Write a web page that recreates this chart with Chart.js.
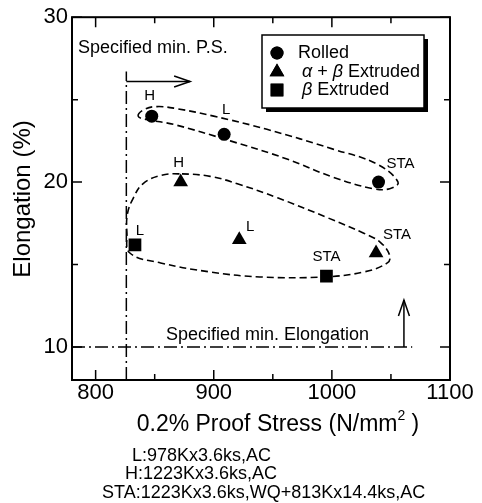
<!DOCTYPE html>
<html>
<head>
<meta charset="utf-8">
<script src="https://cdn.jsdelivr.net/npm/chart.js@4"></script>
<style>
  html, body { margin: 0; padding: 0; background: #fff; }
  #wrap { width: 482px; height: 503px; }
</style>
</head>
<body>
<div id="wrap"><canvas id="chart" width="482" height="503"></canvas></div>
<script>
// values
const rolledX = [847.5, 908.8, 1039.5];
const rolledY = [24.0, 22.9, 20.0];
const rolledTags = ['H', 'L', 'STA'];

const abX = [872, 921.6, 1037.4];
const abY = [20.0, 16.5, 15.7];
const abTags = ['H', 'L', 'STA'];

const betaX = [833.3, 995.4];
const betaY = [16.2, 14.3];
const betaTags = ['L', 'STA'];

// dashed loops around groups (outline)
const upperLoopX = [836, 841, 852, 869, 900, 945, 1001, 1038, 1056, 1049, 1035, 1001, 962, 914, 866, 843];
const upperLoopY = [24.0, 24.4, 24.58, 24.45, 24.0, 23.2, 22.0, 21.1, 20.0, 19.6, 19.6, 20.3, 21.4, 22.5, 23.5, 23.8];

const lowerLoopX = [871, 855, 840, 832, 827, 826.5, 829, 855, 897, 939, 993, 1027, 1047, 1049, 1041, 1027, 996, 954, 920, 897];
const lowerLoopY = [20.5, 20.4, 19.9, 19.05, 18.1, 16.9, 15.7, 15.1, 14.55, 14.25, 14.25, 14.55, 15.1, 15.55, 16.35, 16.9, 17.85, 19.05, 19.9, 20.35];

// specified minimums
const minPS = 826;
const minPSTop = 26.7;
const psArrowY = 26.1;
const psArrowEnd = 880;
const minElong = 10;
const elongLineEnd = 1068;
const elongArrowX = 1061;
const elongArrowEnd = 12.85;

const xTickVals = [800, 900, 1000, 1100];
const xMinorVals = [850, 950, 1050];
const yTickVals = [10, 20, 30];
const yMinorVals = [15, 25];

const footLines = ['L:978Kx3.6ks,AC', 'H:1223Kx3.6ks,AC', 'STA:1223Kx3.6ks,WQ+813Kx14.4ks,AC'];

const FONT = '"Liberation Sans", Arial, Helvetica, sans-serif';

function toPts(xs, ys) {
    return xs.map((x, i) => ({x: x, y: ys[i]}));
}

// wrap a closed outline so the spline is smooth at the seam
function closedLoop(xs, ys) {
    const pts = toPts(xs, ys);
    const n = pts.length;
    return [pts[n - 1], ...pts, pts[0], pts[1]];
}

function loopDataset(xs, ys) {
    const n = xs.length;
    return {
        data: closedLoop(xs, ys),
        showLine: true,
        pointRadius: 0,
        borderColor: '#000',
        borderWidth: 1.6,
        borderDash: [7, 4],
        tension: 0.4,
        segment: {
            borderColor: c => (c.p0DataIndex === 0 || c.p0DataIndex === n + 1) ? 'rgba(0,0,0,0)' : '#000',
        },
    };
}

function refLine(pts, dash) {
    return {
        data: pts,
        showLine: true,
        pointRadius: 0,
        borderColor: '#000',
        borderWidth: 1.5,
        borderDash: dash,
        tension: 0,
    };
}

const dashDot = [13, 4, 2, 4];

const datasets = [
    { label: 'Rolled', data: toPts(rolledX, rolledY), pointStyle: 'circle', pointRadius: 6.5,
      backgroundColor: '#000', borderWidth: 0, tags: rolledTags,
      tagOffsets: [[-2, -20], [2, -24], [22, -18]] },
    { label: 'alphabeta', data: toPts(abX, abY), pointStyle: 'triangle', pointRadius: 8.5,
      backgroundColor: '#000', borderWidth: 0, tags: abTags,
      tagOffsets: [[-2, -19], [11, -13], [21, -18]] },
    { label: 'beta', data: toPts(betaX, betaY), pointStyle: 'rect', pointRadius: 9,
      backgroundColor: '#000', borderWidth: 0, tags: betaTags,
      tagOffsets: [[5, -14], [0, -19]] },
    loopDataset(upperLoopX, upperLoopY),
    loopDataset(lowerLoopX, lowerLoopY),
    refLine([{x: minPS, y: 8}, {x: minPS, y: minPSTop}], dashDot),
    refLine([{x: 780, y: minElong}, {x: elongLineEnd, y: minElong}], dashDot),
    Object.assign(refLine([{x: minPS, y: psArrowY}, {x: psArrowEnd, y: psArrowY}], []), {arrow: true}),
    Object.assign(refLine([{x: elongArrowX, y: minElong}, {x: elongArrowX, y: elongArrowEnd}], []), {arrow: true}),
];

const decorPlugin = {
    id: 'decor',
    afterDatasetsDraw(chart) {
        const ctx = chart.ctx;
        const xs = chart.scales.x;
        const ys = chart.scales.y;
        const {left, right, top, bottom} = chart.chartArea;

        ctx.save();
        ctx.strokeStyle = '#000';
        ctx.fillStyle = '#000';

        // arrow heads
        chart.data.datasets.forEach((ds, i) => {
            if (!ds.arrow) return;
            const pts = chart.getDatasetMeta(i).data;
            const a = pts[pts.length - 2], b = pts[pts.length - 1];
            const ang = Math.atan2(b.y - a.y, b.x - a.x);
            const len = 16, half = 5.5;
            ctx.lineWidth = 1.5;
            ctx.beginPath();
            ctx.moveTo(b.x - len * Math.cos(ang) - half * Math.sin(ang), b.y - len * Math.sin(ang) + half * Math.cos(ang));
            ctx.lineTo(b.x, b.y);
            ctx.lineTo(b.x - len * Math.cos(ang) + half * Math.sin(ang), b.y - len * Math.sin(ang) - half * Math.cos(ang));
            ctx.stroke();
        });

        // point tags
        ctx.font = '15px ' + FONT;
        ctx.textAlign = 'center';
        ctx.textBaseline = 'middle';
        chart.data.datasets.forEach((ds, i) => {
            if (!ds.tags) return;
            chart.getDatasetMeta(i).data.forEach((p, j) => {
                const off = ds.tagOffsets[j];
                ctx.fillText(ds.tags[j], p.x + off[0], p.y + off[1]);
            });
        });

        // annotations
        ctx.font = '18px ' + FONT;
        ctx.textAlign = 'left';
        ctx.fillText('Specified min. P.S.', 78, 48);
        ctx.fillText('Specified min. Elongation', 166, 335);

        // frame with inward ticks
        ctx.lineWidth = 2;
        ctx.strokeRect(left, top, right - left, bottom - top);
        ctx.lineWidth = 1.5;
        ctx.beginPath();
        const xt = (v, len) => {
            const px = xs.getPixelForValue(v);
            ctx.moveTo(px, bottom); ctx.lineTo(px, bottom - len);
            ctx.moveTo(px, top); ctx.lineTo(px, top + len);
        };
        const yt = (v, len) => {
            const py = ys.getPixelForValue(v);
            ctx.moveTo(left, py); ctx.lineTo(left + len, py);
            ctx.moveTo(right, py); ctx.lineTo(right - len, py);
        };
        xTickVals.forEach(v => xt(v, 10));
        xMinorVals.forEach(v => xt(v, 6));
        yTickVals.forEach(v => yt(v, 10));
        yMinorVals.forEach(v => yt(v, 6));
        ctx.stroke();

        // legend box with shadow
        const bx = 262, by = 35, bw = 162, bh = 73;
        ctx.fillRect(bx + 4, by + 4, bw, bh);
        ctx.fillStyle = '#fff';
        ctx.fillRect(bx, by, bw, bh);
        ctx.fillStyle = '#000';
        ctx.lineWidth = 1.5;
        ctx.strokeRect(bx, by, bw, bh);

        const rows = [53, 72, 90];
        [0, 1, 2].forEach((di, k) => {
            const ds = chart.data.datasets[di];
            Chart.helpers.drawPoint(ctx, {pointStyle: ds.pointStyle, radius: ds.pointRadius, borderWidth: 0}, 277, rows[k]);
            ctx.fill();
        });
        ctx.textAlign = 'left';
        ctx.font = '18px ' + FONT;
        ctx.fillText('Rolled', 298, rows[0]);
        const parts = [['α', true], [' + ', false], ['β', true], [' Extruded', false]];
        let tx = 302;
        parts.forEach(([t, it]) => {
            ctx.font = (it ? 'italic ' : '') + '18px ' + FONT;
            ctx.fillText(t, tx, rows[1]);
            tx += ctx.measureText(t).width;
        });
        tx = 302;
        [['β', true], [' Extruded', false]].forEach(([t, it]) => {
            ctx.font = (it ? 'italic ' : '') + '18px ' + FONT;
            ctx.fillText(t, tx, rows[2]);
            tx += ctx.measureText(t).width;
        });

        // axis titles
        ctx.font = '23px ' + FONT;
        ctx.textAlign = 'left';
        let t1 = '0.2% Proof Stress (N/mm';
        let w1 = ctx.measureText(t1).width;
        ctx.font = '14px ' + FONT;
        let w2 = ctx.measureText('2').width;
        ctx.font = '23px ' + FONT;
        let w3 = ctx.measureText(' )').width;
        let sx = 278 - (w1 + w2 + w3) / 2;
        ctx.fillText(t1, sx, 425);
        ctx.font = '14px ' + FONT;
        ctx.fillText('2', sx + w1, 416);
        ctx.font = '23px ' + FONT;
        ctx.fillText(' )', sx + w1 + w2, 425);

        ctx.save();
        ctx.translate(23, 199);
        ctx.rotate(-Math.PI / 2);
        ctx.textAlign = 'center';
        ctx.font = '24px ' + FONT;
        ctx.fillText('Elongation (%)', 0, 0);
        ctx.restore();

        // heat treatment footnotes
        ctx.font = '18px ' + FONT;
        ctx.textAlign = 'left';
        ctx.fillText(footLines[0], 132, 456);
        ctx.fillText(footLines[1], 125, 474);
        ctx.fillText(footLines[2], 102, 493);

        ctx.restore();
    }
};

new Chart(document.getElementById('chart'), {
    type: 'scatter',
    data: { datasets: datasets },
    options: {
        responsive: false,
        animation: false,
        devicePixelRatio: 1,
        layout: { padding: { top: 15, right: 32, left: 0, bottom: 0 }, autoPadding: false },
        plugins: {
            legend: { display: false },
            tooltip: { enabled: false },
        },
        scales: {
            x: {
                type: 'linear',
                min: 780,
                max: 1100,
                afterBuildTicks: s => { s.ticks = xTickVals.map(v => ({value: v})); },
                afterFit: s => { s.height = 123; },
                grid: { display: false, drawTicks: false },
                border: { display: false },
                ticks: { color: '#000', font: { family: FONT, size: 22 }, padding: 0, maxRotation: 0,
                         callback: v => String(v) },
            },
            y: {
                type: 'linear',
                min: 8,
                max: 30,
                afterBuildTicks: s => { s.ticks = yTickVals.map(v => ({value: v})); },
                afterFit: s => { s.width = 72; },
                grid: { display: false, drawTicks: false },
                border: { display: false },
                ticks: { color: '#000', font: { family: FONT, size: 22 }, padding: 4,
                         callback: v => String(v) },
            },
        },
    },
    plugins: [decorPlugin],
});
</script>
</body>
</html>
